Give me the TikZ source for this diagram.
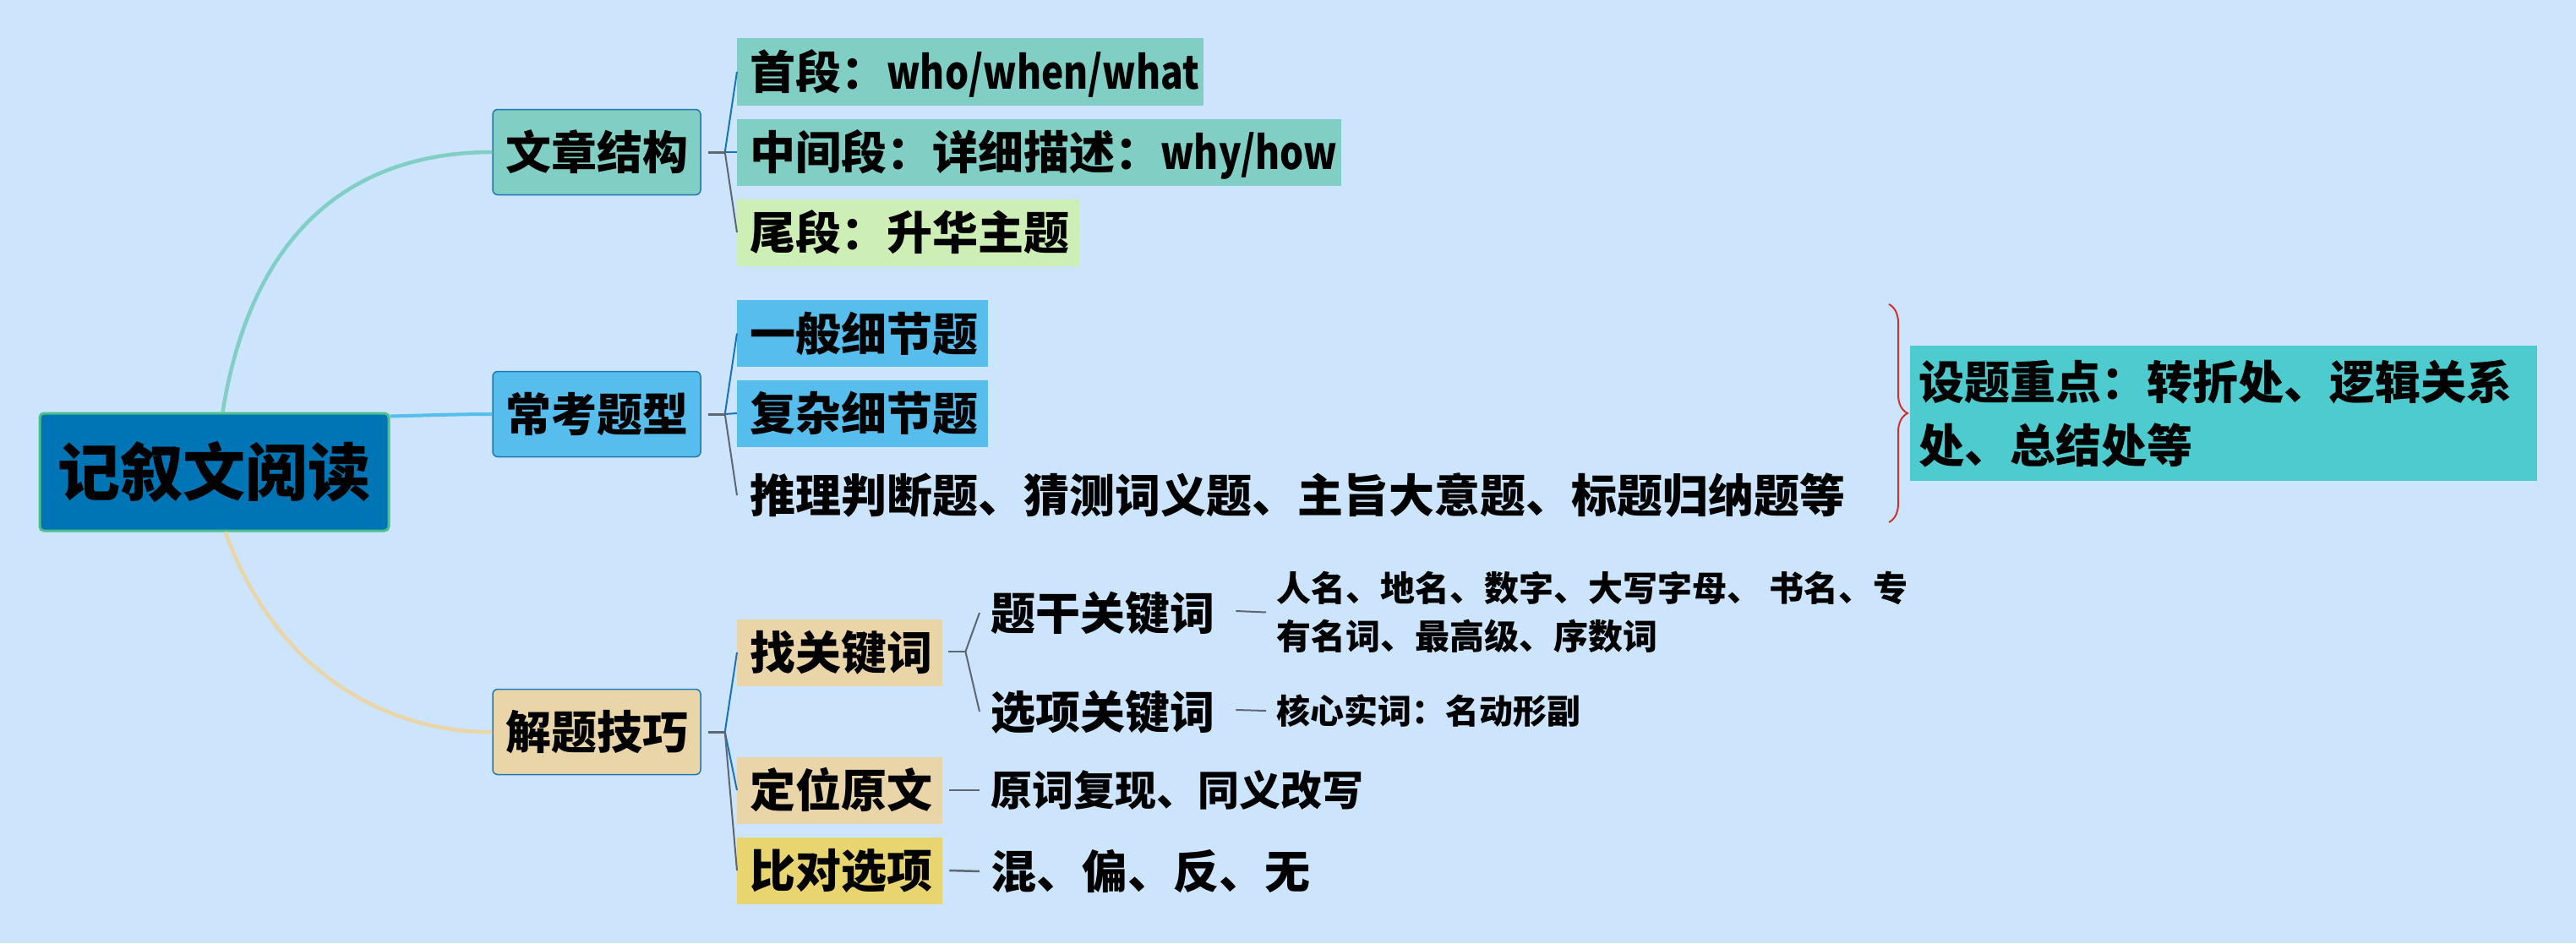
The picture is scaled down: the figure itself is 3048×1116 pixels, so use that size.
\documentclass[tikz,border=0pt]{standalone}
\usepackage{fontspec}
\setmainfont{Noto Sans CJK SC}[BoldFont={Noto Sans CJK SC Black}]
\usepackage{tikz}
\usetikzlibrary{calc,positioning,decorations.pathreplacing}
\definecolor{bgblue}{RGB}{204,229,252}
\definecolor{rootblue}{RGB}{0,117,181}
\definecolor{rootgreen}{RGB}{77,191,139}
\definecolor{tealbox}{RGB}{128,206,196}
\definecolor{skybox}{RGB}{86,189,236}
\definecolor{tanbox}{RGB}{234,213,169}
\definecolor{greenbox}{RGB}{205,238,180}
\definecolor{yellowbox}{RGB}{232,213,111}
\definecolor{cyanbox}{RGB}{77,203,206}
\definecolor{edgeblue}{RGB}{31,120,180}
\definecolor{linegray}{RGB}{94,102,112}
\definecolor{lineblue}{RGB}{26,115,186}
\definecolor{bracered}{RGB}{211,47,47}
\newcommand{\sizebf}[2]{\fontsize{#1}{#2}\selectfont\bfseries}
\newcommand{\latn}[1]{\scalebox{0.82}[1]{#1}}

\begin{document}
\begin{tikzpicture}[x=1pt,y=-1pt,
  rootbox/.style={fill=rootblue,draw=rootgreen,line width=3pt,rounded corners=5pt,minimum width=413pt,minimum height=139pt,inner sep=0pt,font=\sizebf{74}{74}},
  topicbox/.style={draw=edgeblue,line width=1.5pt,rounded corners=6pt,minimum width=246pt,minimum height=101pt,inner sep=0pt,text height=47.5pt,text depth=6.5pt,font=\sizebf{54}{54}},
  leafbox/.style={anchor=west,inner xsep=15pt,inner ysep=0pt,minimum height=79pt,text height=47.5pt,text depth=6.5pt,align=left,font=\sizebf{54}{54}},
  subtext/.style={anchor=west,inner xsep=13pt,inner ysep=0pt,font=\sizebf{#1}{#1}},
  stub/.style={draw=linegray,line width=3pt},
  toblue/.style={draw=lineblue,line width=2pt},
  togray/.style={draw=linegray,line width=2pt}]
\fill[bgblue] (0,0) rectangle (3048,1116);
\useasboundingbox (0,0) rectangle (3048,1116);

\node[rootbox] (root) at (253.5,558.5) {记叙文阅读};
\node[topicbox,fill=tealbox] (jiegou) at (706,180) {文章结构};
\node[topicbox,fill=skybox] (tixing) at (706,490) {常考题型};
\node[topicbox,fill=tanbox] (jiqiao) at (706,866) {解题技巧};

\node[leafbox,fill=tealbox,text width=522pt] (shouduan) at (872,85) {首段：\latn{who/when/what}};
\node[leafbox,fill=tealbox,text width=685pt] (zhongjian) at (872,180) {中间段：详细描述：\latn{why/how}};
\node[leafbox,fill=greenbox,text width=375pt] (weiduan) at (872,275) {尾段：升华主题};

\node[leafbox,fill=skybox,text width=267pt] (yiban) at (872,394.5) {一般细节题};
\node[leafbox,fill=skybox,text width=267pt] (fuza) at (872,489) {复杂细节题};
\node[leafbox] (tuili) at (872,586) {推理判断题、猜测词义题、主旨大意题、标题归纳题等};

\node[leafbox,fill=tanbox,text width=213pt] (zhao) at (872,772) {找关键词};
\node[leafbox,fill=tanbox,text width=213pt] (dingwei) at (872,935) {定位原文};
\node[leafbox,fill=yellowbox,text width=213pt] (bidui) at (872,1030) {比对选项};

\node[subtext=53,text height=46.6pt,text depth=6.4pt] (tigan) at (1159,725) {题干关键词};
\node[subtext=53,text height=46.6pt,text depth=6.4pt] (xuanxiang) at (1159,842) {选项关键词};
\node[subtext=41,inner xsep=12pt,align=left,font=\sizebf{41}{57}] (mingci) at (1498,724.5) {人名、地名、数字、大写字母、 书名、专\\有名词、最高级、序数词};
\node[subtext=40,inner xsep=12pt,text height=35.2pt,text depth=4.8pt] (shici) at (1498,841) {核心实词：名动形副};
\node[subtext=49,text height=43.1pt,text depth=5.9pt] (fuxian) at (1159,935) {原词复现、同义改写};
\node[subtext=54,text height=47.5pt,text depth=6.5pt] (hun) at (1159,1031) {混、偏、反、无};

\node[fill=cyanbox,anchor=west,inner xsep=10pt,inner ysep=0pt,minimum height=160pt,text width=722pt,align=left,font=\sizebf{54}{75}] (zhongdian) at (2260,489) {设题重点：转折处、逻辑关系\\处、总结处等};

\draw[draw=tealbox,line width=4.5pt] ($(root.north)+(10,0)$) .. controls (300,260) and (430,180) .. (jiegou.west);
\draw[draw=skybox,line width=4pt] ($(root.north east)+(0,5)$) .. controls (520,491) and (550,490) .. (tixing.west);
\draw[draw=tanbox,line width=4.5pt] ($(root.south)+(13,0)$) .. controls (340,830) and (500,868) .. (jiqiao.west);

\coordinate (j1) at ($(jiegou.east)+(28,0)$);
\coordinate (j2) at ($(tixing.east)+(28,0)$);
\coordinate (j3) at ($(jiqiao.east)+(28,0)$);
\coordinate (j4) at ($(zhao.east)+(27,-1)$);
\draw[stub] ($(jiegou.east)+(8,0)$) -- (j1);
\draw[stub] ($(tixing.east)+(8,0)$) -- (j2);
\draw[stub] ($(jiqiao.east)+(8,0)$) -- (j3);
\draw[toblue] (j1) -- (shouduan.west);
\draw[toblue] (j1) -- (zhongjian.west);
\draw[togray] (j1) -- (weiduan.west);
\draw[toblue] (j2) -- (yiban.west);
\draw[toblue] (j2) -- (fuza.west);
\draw[togray] (j2) -- (tuili.west);
\draw[toblue] (j3) -- (zhao.west);
\draw[toblue] (j3) -- (dingwei.west);
\draw[togray] (j3) -- (bidui.west);
\draw[stub,line width=2.5pt] ($(zhao.east)+(7,-1)$) -- (j4);
\draw[togray] (j4) -- (tigan.west);
\draw[togray] (j4) -- (xuanxiang.west);
\draw[togray] ($(tigan.east)+(12,-2)$) -- (mingci.west);
\draw[togray] ($(xuanxiang.east)+(12,-2)$) -- (shici.west);
\draw[stub,line width=2.5pt] ($(dingwei.east)+(8,0)$) -- (fuxian.west);
\draw[stub,line width=2.5pt] ($(bidui.east)+(8,0)$) -- (hun.west);

\coordinate (bracetop) at (2235,360);
\coordinate (bracebot) at (2235,618);
\draw[draw=bracered,line width=2pt,decorate,decoration={brace,amplitude=22pt}] (bracetop) -- (bracebot);
\end{tikzpicture}
\end{document}
